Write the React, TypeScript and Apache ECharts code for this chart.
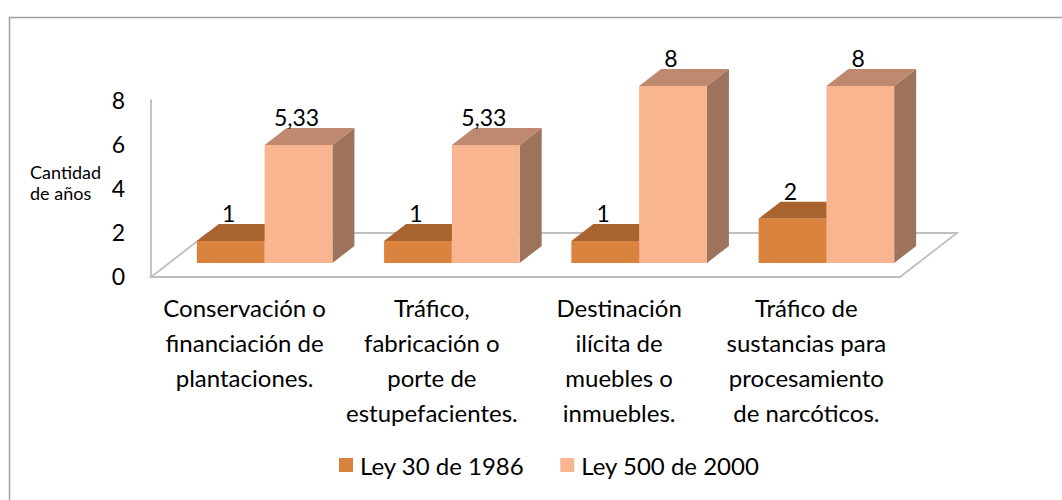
import React, { useEffect, useRef } from "react";
import * as echarts from "echarts";

const categories = [
  "Conservación o\nfinanciación de\nplantaciones.",
  "Tráfico,\nfabricación o\nporte de\nestupefacientes.",
  "Destinación\nilícita de\nmuebles o\ninmuebles.",
  "Tráfico de\nsustancias para\nprocesamiento\nde narcóticos.",
];
const seriesNames = ["Ley 30 de 1986", "Ley 500 de 2000"];
const ley1986 = [1, 1, 1, 2];
const ley2000 = [5.33, 5.33, 8, 8];
const yMin = 0;
const yMax = 8;
const yInterval = 2;

const FONT = "Lato, 'Open Sans', sans-serif";
const palette = [
  { front: "#DA833F", top: "#A8632F", side: "#8F5428" },
  { front: "#F9B490", top: "#BE896E", side: "#9E735B" },
];
const DX = 22;
const DY = -17;

function makeRenderItem(seriesIdx: number) {
  return (params: any, api: any) => {
    const cat = api.value(0);
    const v = api.value(1);
    const top = api.coord([cat, v]);
    const base = api.coord([cat, 0]);
    const band = api.size([1, 0])[0];
    const w = band * 0.362;
    const cx = top[0];
    const x0 = seriesIdx === 0 ? cx - w : cx;
    const x1 = x0 + w;
    const yT = top[1];
    const yB = base[1];
    const c = palette[seriesIdx];
    const label = String(v).replace(".", ",");
    return {
      type: "group",
      children: [
        {
          type: "polygon",
          shape: { points: [[x1, yT], [x1 + DX, yT + DY], [x1 + DX, yB + DY], [x1, yB]] },
          style: { fill: c.side },
        },
        {
          type: "polygon",
          shape: { points: [[x0, yT], [x1, yT], [x1 + DX, yT + DY], [x0 + DX, yT + DY]] },
          style: { fill: c.top },
        },
        {
          type: "rect",
          shape: { x: x0, y: yT, width: w, height: yB - yT },
          style: { fill: c.front },
        },
        {
          type: "text",
          x: (x0 + x1) / 2 - 2,
          y: yT + DY - 11,
          style: {
            text: label,
            fill: "#000",
            fontSize: 23,
            fontFamily: FONT,
            align: "center",
            verticalAlign: "middle",
          },
        },
      ],
    };
  };
}

export default function App() {
  const ref = useRef<HTMLDivElement>(null);
  useEffect(() => {
    if (!ref.current) return;
    const chart = echarts.init(ref.current, null, { renderer: "svg" });
    const option: any = {
      animation: false,
      backgroundColor: "#fff",
      textStyle: { fontFamily: FONT },
      grid: [
        { left: 151, top: 100, width: 749, height: 176 },
        { left: 171, top: 86, width: 749, height: 177 },
      ],
      xAxis: [
        {
          type: "category",
          gridIndex: 0,
          data: categories,
          axisLine: { show: false },
          axisTick: { show: false },
          axisLabel: {
            interval: 0,
            fontSize: 24,
            lineHeight: 35,
            color: "#000",
            fontFamily: FONT,
            margin: 14,
            align: "center",
          },
        },
        {
          type: "category",
          gridIndex: 1,
          data: categories,
          show: false,
        },
      ],
      yAxis: [
        {
          type: "value",
          gridIndex: 0,
          min: yMin,
          max: yMax,
          interval: yInterval,
          axisLine: { show: true, lineStyle: { color: "#B0B0B0", width: 1.5 } },
          axisTick: { show: false },
          splitLine: { show: false },
          axisLabel: { fontSize: 23, color: "#000", fontFamily: FONT, margin: 26 },
        },
        {
          type: "value",
          gridIndex: 1,
          min: yMin,
          max: yMax,
          show: false,
        },
      ],
      legend: {
        data: seriesNames,
        left: 339,
        top: 453,
        padding: 0,
        itemGap: 36,
        itemWidth: 14,
        itemHeight: 14,
        icon: "rect",
        textStyle: { fontSize: 24, color: "#000", fontFamily: FONT, padding: [0, 0, 0, 2] },
      },
      graphic: [
        {
          type: "rect",
          shape: { x: 9.5, y: 17.5, width: 1060, height: 600 },
          style: { fill: "none", stroke: "#A0A0A0", lineWidth: 1.5 },
          silent: true,
          z: 0,
        },
        {
          type: "polygon",
          shape: { points: [[151, 277], [900, 277], [957, 233], [208, 233]] },
          style: { fill: "none", stroke: "#BFBFBF", lineWidth: 1.8 },
          silent: true,
          z: 0,
        },
        {
          type: "text",
          x: 30,
          y: 161,
          style: {
            text: "Cantidad\nde años",
            fill: "#000",
            fontSize: 18,
            lineHeight: 21,
            fontFamily: FONT,
            align: "left",
          },
        },
      ],
      series: [
        {
          type: "custom",
          name: seriesNames[0],
          xAxisIndex: 1,
          yAxisIndex: 1,
          clip: false,
          z: 3,
          itemStyle: { color: palette[0].front },
          renderItem: makeRenderItem(0),
          encode: { x: 0, y: 1 },
          data: ley1986.map((v, i) => [i, v]),
        },
        {
          type: "custom",
          name: seriesNames[1],
          xAxisIndex: 1,
          yAxisIndex: 1,
          clip: false,
          z: 4,
          itemStyle: { color: palette[1].front },
          renderItem: makeRenderItem(1),
          encode: { x: 0, y: 1 },
          data: ley2000.map((v, i) => [i, v]),
        },
      ],
    };
    chart.setOption(option);
    return () => chart.dispose();
  }, []);
  return (
    <div
      ref={ref}
      style={{ position: "fixed", left: 0, top: 0, width: 1062, height: 500, background: "#fff" }}
    />
  );
}
